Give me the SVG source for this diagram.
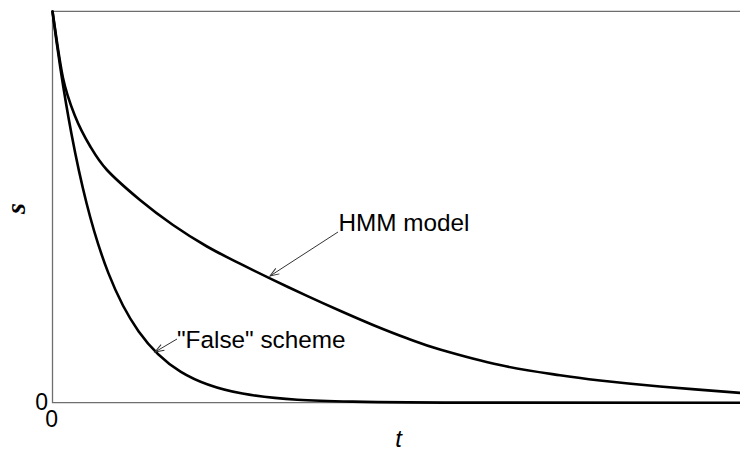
<svg xmlns="http://www.w3.org/2000/svg" width="740" height="451" viewBox="0 0 740 451">
<style>
.axis{fill:none;stroke:#6e6e6e;stroke-width:1.3}
.curve{fill:none;stroke:#000;stroke-width:2.6;stroke-linejoin:round;stroke-linecap:round}
.lbl{font-family:"Liberation Sans",Arial,sans-serif;font-size:24.3px;fill:#000}
.tick{font-family:"Liberation Sans",Arial,sans-serif;font-size:23px;fill:#000;text-anchor:middle}
.ptr{fill:none;stroke:#333;stroke-width:1}
</style>
<defs>
<marker id="open" viewBox="-10 -5 12 10" refX="0" refY="0" markerWidth="12" markerHeight="10" markerUnits="userSpaceOnUse" orient="auto">
<path d="M-9,-3.3 L0,0 L-9,3.3" fill="none" stroke="#333" stroke-width="1"/>
</marker>
</defs>
<rect width="740" height="451" fill="#fff"/>
<g id="axes">
<path class="axis" d="M741,11.3 H52.5 V402.7 H741"/>
<text class="tick" x="41.7" y="409.7">0</text>
<text class="tick" x="51.7" y="426.5">0</text>
<text x="25" y="208.5" transform="rotate(-90 25 208.5)" text-anchor="middle" font-family="'Liberation Serif','Times New Roman',serif" font-style="italic" font-weight="bold" font-size="28" fill="#000">s</text>
<text x="398.5" y="447" text-anchor="middle" font-family="'Liberation Sans',Arial,sans-serif" font-style="italic" font-size="24" fill="#000">t</text>
</g>
<g id="curve-hmm">
<path class="curve" d="M52.5,11.5 C54.25,22.58 59.25,60.58 63,78 C66.75,95.42 70.5,104.67 75,116 C79.5,127.33 84.67,137 90,146 C95.33,155 98.67,161 107,170 C115.33,179 129,190.83 140,200 C151,209.17 161.83,217.25 173,225 C184.170,232.75 195.83,240.05 207,246.5 C218.17,252.95 229,258.13 240,263.7 C251,269.27 261.83,274.53 273,279.9 C284.17,285.27 295.83,290.75 307,295.9 C318.17,301.05 329,305.95 340,310.8 C351,315.65 361.83,320.42 373,325 C384.17,329.58 395.83,334.22 407,338.3 C418.17,342.38 424.5,345.03 440,349.5 C455.5,353.97 480,360.8 500,365.1 C520,369.4 543.33,372.73 560,375.3 C576.67,377.87 583.33,378.63 600,380.5 C616.67,382.37 636.67,384.43 660,386.5 C683.33,388.57 726.67,391.83 741,392.9"/>
</g>
<g id="curve-false">
<path class="curve" d="M52.5,11.5 C55.17,32.13 57.83,51.09 60.5,68.7 C64.17,92.91 67.83,114.52 71.5,134 C76.5,160.56 81.5,183.25 86.5,203 C93.83,231.96 101.17,254.66 108.5,273.4 C118.5,298.96 128.5,317.07 138.5,331.2 C152.5,350.98 166.5,362.98 180.5,371.6 C201.17,384.33 221.830,389.81 242.5,393.55 C279.17,400.18 315.83,400.91 352.5,401.66 C402.5,402.69 452.5,402.6 502.5,402.65 L741,402.7"/>
</g>
<g id="label-hmm">
<text class="lbl" x="338.5" y="231">HMM model</text>
</g>
<g id="label-false">
<text class="lbl" x="177" y="347.5">"False" scheme</text>
</g>
<g id="connectors">
<line class="ptr" x1="338" y1="232" x2="270" y2="276" marker-end="url(#open)"/>
<line class="ptr" x1="177" y1="339" x2="155" y2="352" marker-end="url(#open)"/>
</g>
</svg>
